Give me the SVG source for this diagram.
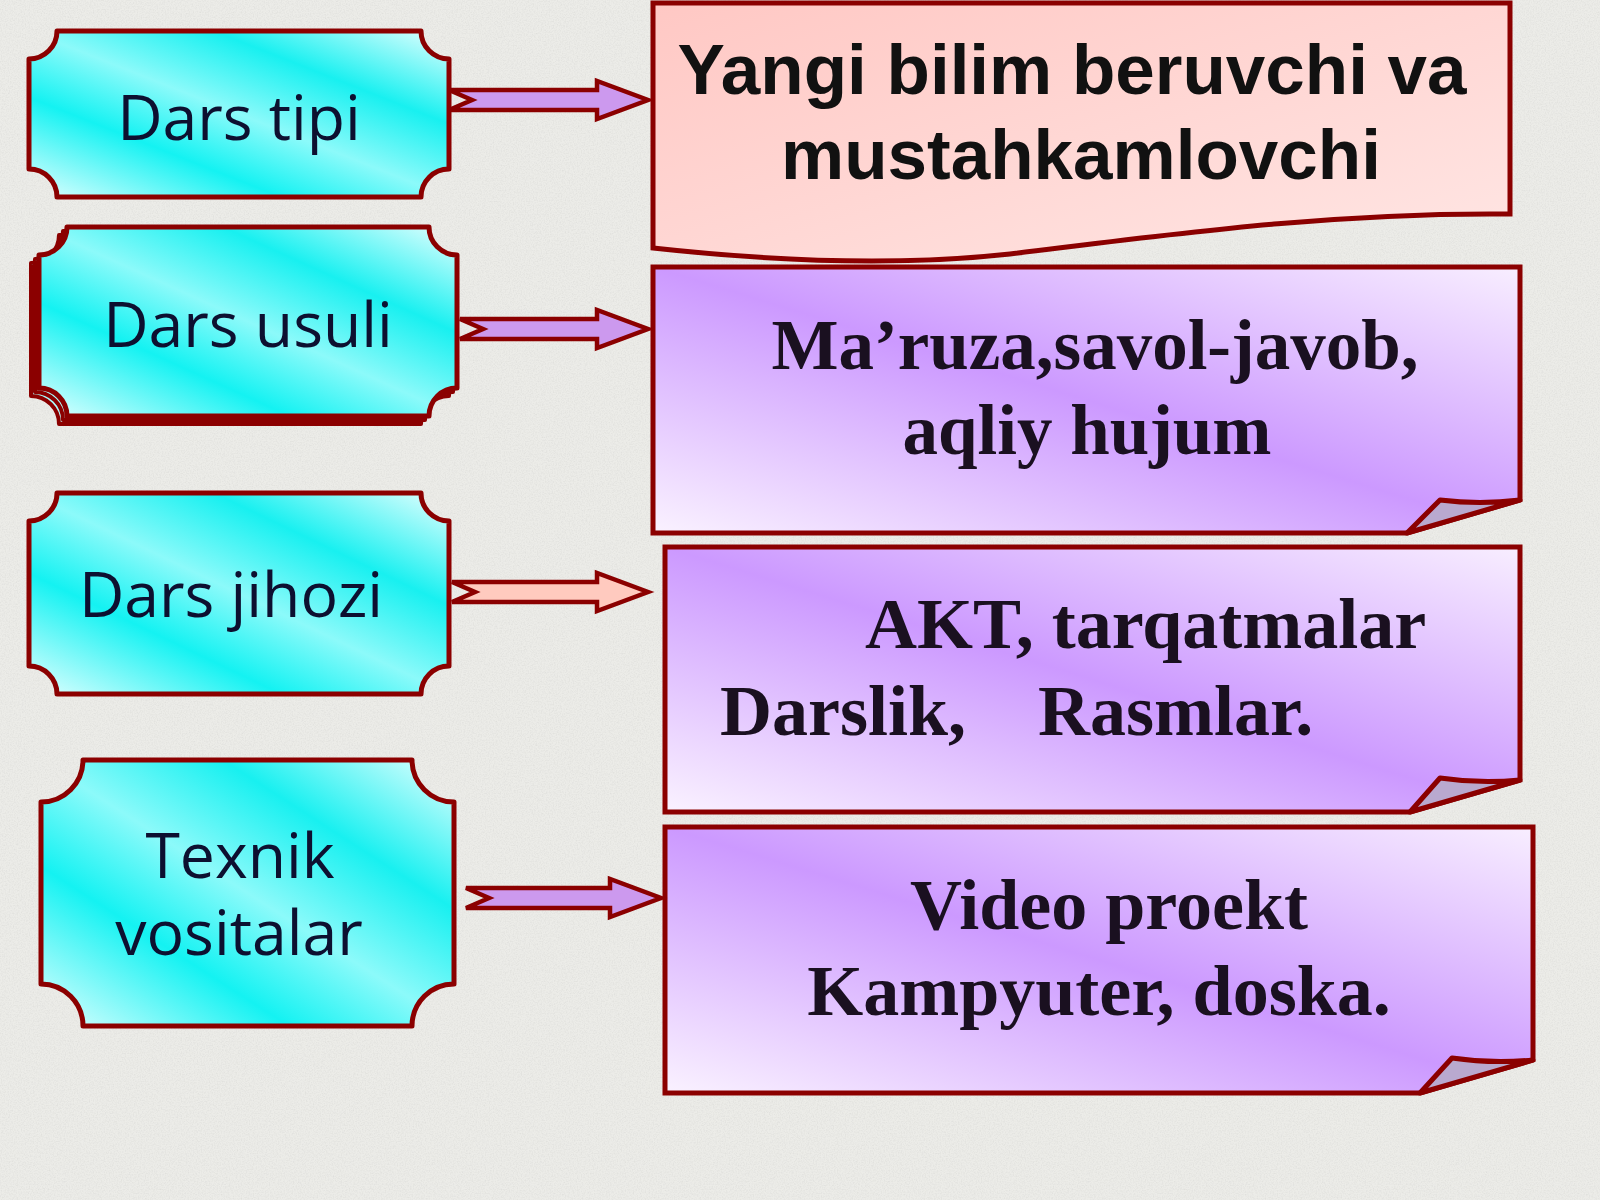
<svg xmlns="http://www.w3.org/2000/svg" width="1600" height="1200" viewBox="0 0 1600 1200">
  <defs>
    <filter id="noise" x="0" y="0" width="100%" height="100%">
      <feTurbulence type="fractalNoise" baseFrequency="0.75" numOctaves="3" seed="4"/>
      <feColorMatrix type="matrix" values="0 0 0 0 0.66  0 0 0 0 0.66  0 0 0 0 0.64  1.6 0 0 0 -0.62"/>
    </filter>
    <linearGradient id="cyan" x1="0" y1="1" x2="1" y2="0">
      <stop offset="0" stop-color="#e4ffff"/>
      <stop offset="0.3" stop-color="#14f2f2"/>
      <stop offset="0.5" stop-color="#8cfafa"/>
      <stop offset="0.72" stop-color="#18f0f0"/>
      <stop offset="1" stop-color="#e8ffff"/>
    </linearGradient>
    <linearGradient id="purple" x1="0" y1="1" x2="1" y2="0">
      <stop offset="0" stop-color="#faf2ff"/>
      <stop offset="0.5" stop-color="#cc99ff"/>
      <stop offset="1" stop-color="#f8eeff"/>
    </linearGradient>
    <linearGradient id="pink" x1="0" y1="0" x2="1" y2="1">
      <stop offset="0" stop-color="#ffc8c4"/>
      <stop offset="1" stop-color="#ffe6e4"/>
    </linearGradient>
    <style>
      .box { fill: url(#cyan); stroke: #8b0000; stroke-width: 5; stroke-linejoin: round; }
      .card { fill: url(#purple); stroke: #8b0000; stroke-width: 5; stroke-linejoin: miter; }
      .fold { fill: #b9a9cf; stroke: #8b0000; stroke-width: 5; stroke-linejoin: round; }
      .head { fill: url(#pink); stroke: #8b0000; stroke-width: 5; }
      .arrow { stroke: #8b0000; stroke-width: 4.5; stroke-linejoin: miter; }
      .lbl { font-family: "Open Sans", "Noto Sans", sans-serif; font-size: 62.5px; fill: #0d1030; text-anchor: middle; }
      .sans { font-family: "Liberation Sans", Arial, sans-serif; font-weight: bold; font-size: 71px; fill: #111111; text-anchor: middle; }
      .serif { font-family: "Liberation Serif", "Times New Roman", serif; font-weight: bold; font-size: 72px; fill: #1a1020; }
    </style>
  </defs>

  <rect x="0" y="0" width="1600" height="1200" fill="#ecece8"/>
  <rect x="0" y="0" width="1600" height="1200" filter="url(#noise)" opacity="0.6"/>

  <g id="node-dars-tipi">
    <path class="box" d="M57,31 H421 A28,28 0 0 0 449,59 V169 A28,28 0 0 0 421,197 H57 A28,28 0 0 0 29,169 V59 A28,28 0 0 0 57,31 Z"/>
    <text class="lbl" x="239" y="140">Dars tipi</text>
  </g>

  <g id="node-dars-usuli">
    <path class="box" style="stroke-width:4" transform="translate(-8,8)" d="M67,227 H429 A28,28 0 0 0 457,255 V388 A28,28 0 0 0 429,416 H67 A28,28 0 0 0 39,388 V255 A28,28 0 0 0 67,227 Z"/>
    <path class="box" style="stroke-width:4" transform="translate(-4,4)" d="M67,227 H429 A28,28 0 0 0 457,255 V388 A28,28 0 0 0 429,416 H67 A28,28 0 0 0 39,388 V255 A28,28 0 0 0 67,227 Z"/>
    <path class="box" d="M67,227 H429 A28,28 0 0 0 457,255 V388 A28,28 0 0 0 429,416 H67 A28,28 0 0 0 39,388 V255 A28,28 0 0 0 67,227 Z"/>
    <text class="lbl" x="248" y="347">Dars usuli</text>
  </g>

  <g id="node-dars-jihozi">
    <path class="box" d="M57,493 H421 A28,28 0 0 0 449,521 V666 A28,28 0 0 0 421,694 H57 A28,28 0 0 0 29,666 V521 A28,28 0 0 0 57,493 Z"/>
    <text class="lbl" x="231" y="617">Dars jihozi</text>
  </g>

  <g id="node-texnik">
    <path class="box" d="M83,760 H412 A42,42 0 0 0 454,802 V984 A42,42 0 0 0 412,1026 H83 A42,42 0 0 0 41,984 V802 A42,42 0 0 0 83,760 Z"/>
    <text class="lbl" x="240" y="878">Texnik</text>
    <text class="lbl" x="239" y="955">vositalar</text>
  </g>

  <g id="node-yangi-bilim">
    <path class="head" d="M653,3 H1510 V214 C1330,212 1160,236 1010,254 C900,266 780,262 653,248 Z"/>
    <text class="sans" x="1072" y="94">Yangi bilim beruvchi va</text>
    <text class="sans" x="1081" y="179">mustahkamlovchi</text>
  </g>

  <g id="node-maruza">
    <path class="card" d="M653,267 H1520 V500 L1407,533 H653 Z"/>
    <path class="fold" d="M1407,533 L1440,500 Q1480,505 1520,500 Z"/>
    <text class="serif" x="1095" y="369" text-anchor="middle" style="font-size:71px">Ma’ruza,savol-javob,</text>
    <text class="serif" x="1087" y="454" text-anchor="middle" style="font-size:71px">aqliy hujum</text>
  </g>

  <g id="node-akt">
    <path class="card" d="M665,547 H1520 V780 L1410,812 H665 Z"/>
    <path class="fold" d="M1410,812 L1440,778 Q1480,784 1520,780 Z"/>
    <text class="serif" x="865" y="648">AKT, tarqatmalar</text>
    <text class="serif" x="720" y="735" xml:space="preserve" style="white-space:pre">Darslik,    Rasmlar.</text>
  </g>

  <g id="node-video">
    <path class="card" d="M665,827 H1533 V1060 L1420,1093 H665 Z"/>
    <path class="fold" d="M1420,1093 L1452,1058 Q1492,1064 1533,1060 Z"/>
    <text class="serif" x="1109" y="929" text-anchor="middle">Video proekt</text>
    <text class="serif" x="1099" y="1015" text-anchor="middle">Kampyuter, doska.</text>
  </g>

  <g id="connectors">
    <path class="arrow" fill="#cc99ee" d="M449,90 H597 V81 L648,100 L597,119 V110 H449 L472,100 Z"/>
    <path class="arrow" fill="#cc99ee" d="M460,319 H597 V310 L648,329 L597,348 V339 H460 L483,329 Z"/>
    <path class="arrow" fill="#ffcabf" d="M452,582 H597 V573 L648,592 L597,611 V602 H452 L475,592 Z"/>
    <path class="arrow" fill="#cc99ee" d="M466,888 H610 V879 L661,898 L610,917 V908 H466 L489,898 Z"/>
  </g>
</svg>
